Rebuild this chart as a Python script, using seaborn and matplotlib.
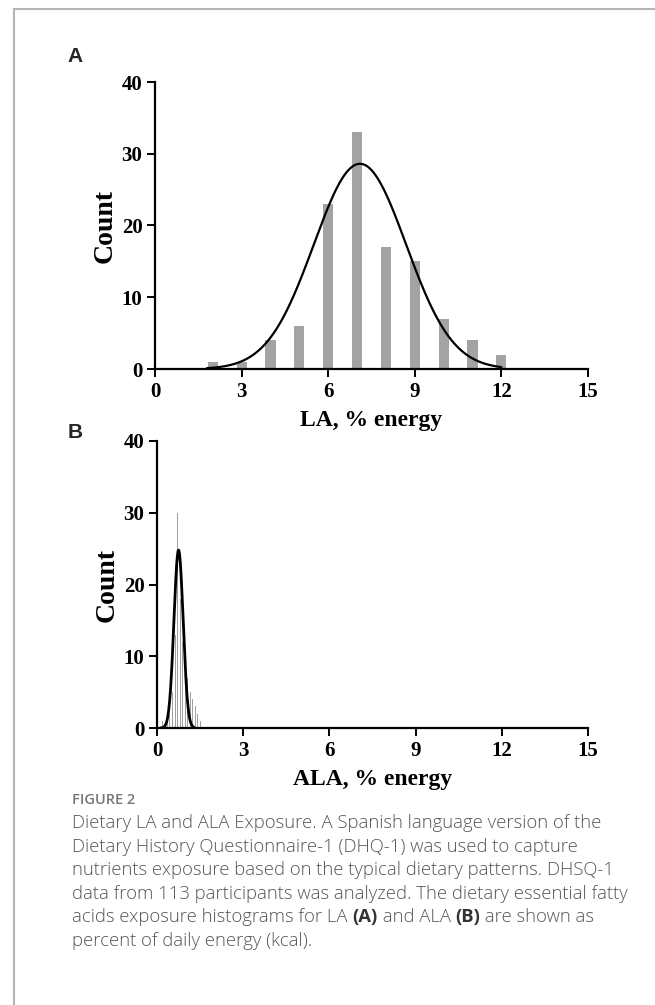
import numpy as np
import pandas as pd
import matplotlib
matplotlib.use("Agg")
import matplotlib.pyplot as plt
import seaborn as sns

# ---------------- data ----------------
la_bins = [2, 3, 4, 5, 6, 7, 8, 9, 10, 11, 12]
la_counts = [1, 1, 4, 6, 23, 33, 17, 15, 7, 4, 2]
la_fit_mean, la_fit_sd, la_fit_peak = 7.1, 1.6, 28.6
la_fit_range = (1.8, 12.0)

ala_bins = [0.19, 0.28, 0.37, 0.45, 0.54, 0.63, 0.72, 0.81, 0.89, 0.98,
            1.07, 1.16, 1.25, 1.33, 1.42, 1.51]
ala_counts = [1, 0, 1, 2, 5, 13, 30, 18, 12, 9, 7, 5, 4, 3, 2, 1]
ala_fit_mean, ala_fit_sd, ala_fit_peak = 0.75, 0.16, 24.8
ala_fit_range = (0.12, 1.30)

x_ticks = [0, 3, 6, 9, 12, 15]
y_ticks = [0, 10, 20, 30, 40]
x_labels = ["LA, % energy", "ALA, % energy"]
y_label = "Count"
panel_letters = ["A", "B"]

caption_head = "FIGURE 2"
caption_lines = [
    [("Dietary LA and ALA Exposure. A Spanish language version of the", False)],
    [("Dietary History Questionnaire-1 (DHQ-1) was used to capture", False)],
    [("nutrients exposure based on the typical dietary patterns. DHSQ-1", False)],
    [("data from 113 participants was analyzed. The dietary essential fatty", False)],
    [("acids exposure histograms for LA ", False), ("(A)", True), (" and ALA ", False),
     ("(B)", True), (" are shown as", False)],
    [("percent of daily energy (kcal).", False)],
]

# ---------------- style ----------------
sns.set_theme(style="ticks")
plt.rcParams['font.family'] = ['Liberation Serif', 'DejaVu Serif']

W, H = 655, 1005
fig = plt.figure(figsize=(W / 100, H / 100), dpi=100)
fig.patch.set_facecolor("white")

def frac_axes(x0, x1, y_top, y_bot):
    return fig.add_axes([x0 / W, 1 - y_bot / H, (x1 - x0) / W, (y_bot - y_top) / H])

axA = frac_axes(155, 588, 82, 369)
axB = frac_axes(157, 588, 441, 728)

def gauss_curve(mean, sd, peak, rng):
    xs = np.linspace(rng[0], rng[1], 400)
    ys = peak * np.exp(-0.5 * ((xs - mean) / sd) ** 2)
    return pd.DataFrame({"x": xs, "y": ys})

dfA = pd.DataFrame({"x": la_bins, "count": la_counts})
dfB = pd.DataFrame({"x": ala_bins, "count": ala_counts})

sns.barplot(data=dfA, x="x", y="count", native_scale=True, width=0.35,
            color="#a3a3a3", saturation=1, errorbar=None, ax=axA, linewidth=0)
sns.lineplot(data=gauss_curve(la_fit_mean, la_fit_sd, la_fit_peak, la_fit_range),
             x="x", y="y", color="black", linewidth=1.6, ax=axA)

sns.barplot(data=dfB, x="x", y="count", native_scale=True, width=0.4,
            color="#a0a0a0", saturation=1, errorbar=None, ax=axB, linewidth=0)
sns.lineplot(data=gauss_curve(ala_fit_mean, ala_fit_sd, ala_fit_peak, ala_fit_range),
             x="x", y="y", color="black", linewidth=2.0, ax=axB)

for ax, xl in zip([axA, axB], x_labels):
    ax.set_xlim(0, 15)
    ax.set_ylim(0, 40)
    ax.set_xticks(x_ticks)
    ax.set_yticks(y_ticks)
    ax.set_xticklabels([str(t) for t in x_ticks])
    ax.set_yticklabels([str(t) for t in y_ticks])
    for s in ["top", "right"]:
        ax.spines[s].set_visible(False)
    for s in ["left", "bottom"]:
        ax.spines[s].set_linewidth(1.6)
        ax.spines[s].set_color("black")
        ax.spines[s].set_capstyle("projecting")
    ax.tick_params(direction="out", length=6, width=1.4, colors="black",
                   labelsize=15, pad=3)
    for lbl in ax.get_xticklabels() + ax.get_yticklabels():
        lbl.set_fontweight("bold")
    ax.set_xlabel(xl, fontsize=17, fontweight="bold", labelpad=6, color="black")
    ax.set_ylabel(y_label, fontsize=20, fontweight="bold", labelpad=3, color="black")
    ax.set_facecolor("white")
    ax.grid(False)

# panel letters
fig.text(75 / W, 1 - 57 / H, panel_letters[0], fontsize=15, fontweight="bold",
         family="Liberation Sans", ha="center", va="center")
fig.text(75 / W, 1 - 432 / H, panel_letters[1], fontsize=15, fontweight="bold",
         family="Liberation Sans", ha="center", va="center")

# border lines
from matplotlib.lines import Line2D
fig.add_artist(Line2D([14 / W, 14 / W], [0, 1 - 9 / H], color="#b4b4b4", lw=1.5,
                      transform=fig.transFigure))
fig.add_artist(Line2D([14 / W, 1], [1 - 9 / H, 1 - 9 / H], color="#b4b4b4", lw=1.5,
                      transform=fig.transFigure))

# caption
fig.text(72 / W, 1 - 800 / H, caption_head, fontsize=10.5, fontweight="semibold",
         family="Open Sans", color="#777777", ha="left", va="center")

fig.canvas.draw()
renderer = fig.canvas.get_renderer()
y0 = 823
dy = 23.6
cap_color = "#555555"
for i, segs in enumerate(caption_lines):
    x = 72.0
    y = y0 + i * dy
    for txt, bold in segs:
        t = fig.text(x / W, 1 - y / H, txt, fontsize=13.3,
                     fontweight="bold" if bold else "light",
                     family="Open Sans", color=cap_color if not bold else "#333333",
                     ha="left", va="center")
        bb = t.get_window_extent(renderer=renderer)
        x += bb.width

fig.savefig("out.png", dpi=100, facecolor="white")
